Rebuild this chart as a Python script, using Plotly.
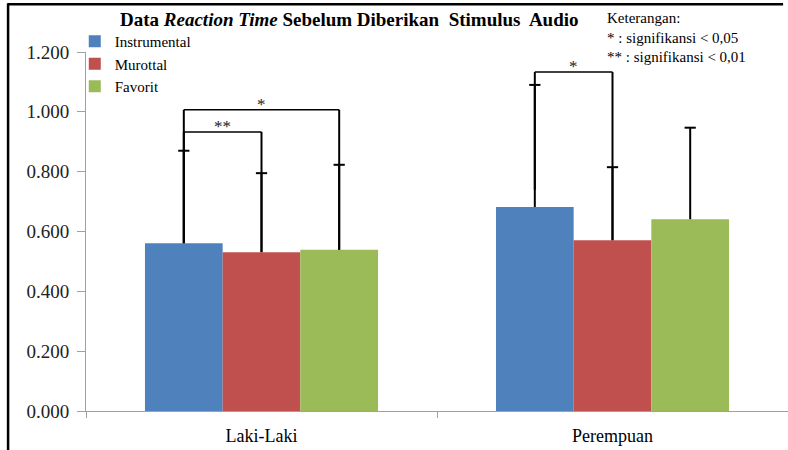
import plotly.graph_objects as go

categories = ["Laki-Laki", "Perempuan"]
series_names = ["Instrumental", "Murottal", "Favorit"]
series_colors = ["#4F81BD", "#C0504D", "#9BBB59"]
means = [
    [0.561, 0.682],   # Instrumental
    [0.531, 0.571],   # Murottal
    [0.539, 0.641],   # Favorit
]
upper = [
    [0.870, 1.090],
    [0.795, 0.815],
    [0.823, 0.947],
]
y_ticks = [0.0, 0.2, 0.4, 0.6, 0.8, 1.0, 1.2]

# significance brackets: group index, left series, right series, level, bottoms, label
br_group = [0, 0, 1]
br_left = [0, 0, 0]
br_right = [1, 2, 1]
br_level = [0.933, 1.007, 1.133]
br_left_bottom = [0.561, 0.561, 0.740]
br_right_bottom = [0.531, 0.539, 0.571]
br_label = ["**", "*", "*"]

BARGAP = 0.336
SERIF = "Liberation Serif"
CAP_HALF = 0.016  # half-width of error-bar caps, in category units

fig = go.Figure()
for i, name in enumerate(series_names):
    fig.add_trace(go.Bar(
        name=name, x=categories, y=means[i],
        marker=dict(color=series_colors[i], line=dict(width=0)),
        error_y=dict(type="data", symmetric=False,
                     array=[u - m for u, m in zip(upper[i], means[i])],
                     arrayminus=[0] * len(means[i]),
                     color="black", thickness=2, width=0),
    ))

n = len(series_names)
bw = (1 - BARGAP) / n
def xpos(g, s):
    return g + (s - (n - 1) / 2) * bw

shapes = []
annotations = []
# error-bar caps (top only)
for s in range(n):
    for g in range(len(categories)):
        xc = xpos(g, s)
        shapes.append(dict(type="line", xref="x", yref="y", x0=xc - CAP_HALF, x1=xc + CAP_HALF,
                           y0=upper[s][g], y1=upper[s][g], line=dict(color="black", width=2)))

for g, l, r, lev, lb, rb, lab in zip(br_group, br_left, br_right, br_level,
                                      br_left_bottom, br_right_bottom, br_label):
    xl, xr = xpos(g, l), xpos(g, r)
    ln = dict(color="black", width=2)
    shapes.append(dict(type="line", xref="x", yref="y", x0=xl, x1=xl, y0=lb, y1=lev, line=ln))
    shapes.append(dict(type="line", xref="x", yref="y", x0=xr, x1=xr, y0=rb, y1=lev, line=ln))
    shapes.append(dict(type="line", xref="x", yref="y", x0=xl, x1=xr, y0=lev, y1=lev,
                       line=dict(color="black", width=1.5)))
    annotations.append(dict(xref="x", yref="y", x=(xl + xr) / 2, y=lev, text=lab,
                            showarrow=False, yanchor="bottom", yshift=-6,
                            font=dict(family=SERIF, size=17, color="#222")))

# outer frame (left and top)
shapes.append(dict(type="line", xref="paper", yref="paper", x0=-0.111, x1=-0.111,
                   y0=-0.12, y1=1.135, line=dict(color="black", width=2.5)))
shapes.append(dict(type="line", xref="paper", yref="paper", x0=-0.112, x1=0.993,
                   y0=1.133, y1=1.133, line=dict(color="black", width=2.5)))

annotations.append(dict(xref="paper", yref="paper", x=0.375, y=1.09,
                        text="<b>Data <i>Reaction Time</i> Sebelum Diberikan&nbsp; Stimulus&nbsp; Audio</b>",
                        showarrow=False, xanchor="center", yanchor="middle",
                        font=dict(family=SERIF, size=19, color="black")))
annotations.append(dict(xref="paper", yref="paper", x=0.740, y=1.123,
                        text="Keterangan:<br>* : signifikansi &lt; 0,05<br>** : signifikansi &lt; 0,01",
                        showarrow=False, xanchor="left", yanchor="top", align="left",
                        font=dict(family=SERIF, size=15, color="black")))

fig.update_layout(
    width=788, height=450,
    margin=dict(l=86, r=0, t=52, b=39),
    paper_bgcolor="white", plot_bgcolor="white",
    font=dict(family=SERIF, color="black"),
    barmode="group", bargap=BARGAP, bargroupgap=0,
    shapes=shapes, annotations=annotations,
    showlegend=True,
    legend=dict(x=-0.016, y=1.075, xanchor="left", yanchor="top",
                font=dict(family=SERIF, size=15, color="black"),
                bgcolor="rgba(0,0,0,0)", tracegroupgap=0, itemwidth=30),
    xaxis=dict(type="category", range=[-0.5, 1.5], showline=True, linecolor="#A0A0A0",
               linewidth=1, ticks="outside", tickson="boundaries", ticklen=6,
               tickcolor="#A0A0A0", showgrid=False, ticklabelstandoff=8,
               tickfont=dict(family=SERIF, size=18, color="black")),
    yaxis=dict(range=[0, 1.2], tickvals=y_ticks, tickformat=".3f", showline=True,
               linecolor="#A0A0A0", linewidth=1, ticks="outside", ticklen=8,
               tickcolor="#A0A0A0", showgrid=False, zeroline=False, ticklabelstandoff=4,
               tickfont=dict(family=SERIF, size=19, color="#222")),
)

fig.write_html("out.html", config={"displayModeBar": False},
               post_script="document.body.style.margin='0';document.body.style.padding='0';")
